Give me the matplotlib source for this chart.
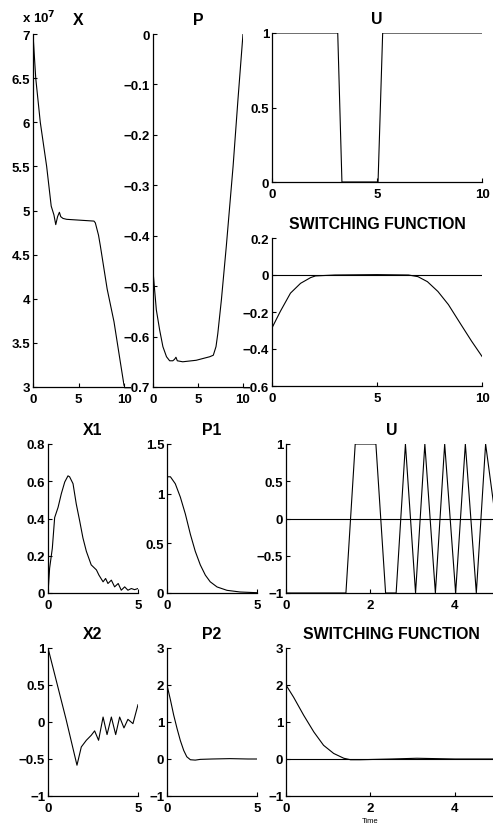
import numpy as np
import matplotlib.pyplot as plt
from matplotlib.ticker import FuncFormatter

plt.rcParams['font.family'] = ['Liberation Sans', 'DejaVu Sans']
plt.rcParams['font.size'] = 9.5
plt.rcParams['font.weight'] = 'bold'
plt.rcParams['axes.titleweight'] = 'bold'
plt.rcParams['axes.linewidth'] = 0.9

# ---- top problem (t = 0..10) ----
x_t = [0, 0.3, 0.8, 1.5, 2.0, 2.3, 2.5, 2.7, 2.9, 3.05, 3.3, 3.7, 5.2, 6.7, 6.85,
       7.2, 7.4, 8.15, 8.9, 9.6, 10]
x_val = [7.0, 6.5, 6.0, 5.5, 5.05, 4.95, 4.84, 4.93, 4.98, 4.93, 4.91, 4.9, 4.89,
         4.88, 4.86, 4.72, 4.6, 4.11, 3.74, 3.28, 3.02]

p_t = [0, 0.37, 0.74, 1.1, 1.5, 1.85, 2.2, 2.4, 2.55, 2.7, 3.3, 4.8, 6.3, 6.7, 7.0, 7.2, 7.6,
       8.15, 8.9, 9.44, 10]
p_val = [-0.47, -0.547, -0.587, -0.62, -0.64, -0.648, -0.648, -0.645, -0.641, -0.648, -0.65,
         -0.647, -0.64, -0.637, -0.62, -0.594, -0.527, -0.42, -0.262, -0.13, 0.0]

u_t = [0, 3.13, 3.33, 5.05, 5.27, 10]
u_val = [1, 1, 0, 0, 1, 1]

sf_t = [0, 0.4, 0.88, 1.36, 1.84, 2.07, 3, 5, 6.5, 6.95, 7.4, 7.9, 8.4, 9.0, 9.5, 10]
sf_val = [-0.286, -0.196, -0.098, -0.045, -0.014, -0.005, 0.0, 0.002, 0.0, -0.009, -0.036,
          -0.089, -0.16, -0.268, -0.357, -0.44]

# ---- bottom problem (t = 0..5) ----
x1_t = [0, 0.09, 0.24, 0.37, 0.56, 0.74, 0.93, 1.11, 1.2, 1.39, 1.57, 1.76, 1.94, 2.13, 2.4,
        2.69, 2.83, 3.06, 3.2, 3.33, 3.52, 3.7, 3.9, 4.07, 4.26, 4.44, 4.63, 4.81, 5.0]
x1_val = [0, 0.133, 0.24, 0.405, 0.46, 0.533, 0.596, 0.629, 0.624, 0.587, 0.478, 0.387, 0.296,
          0.224, 0.151, 0.124, 0.096, 0.06, 0.078, 0.051, 0.069, 0.033, 0.051, 0.015, 0.033,
          0.015, 0.024, 0.018, 0.024]

p1_t = [0, 0.19, 0.46, 0.74, 1.02, 1.3, 1.57, 1.85, 2.13, 2.4, 2.78, 3.33, 4.07, 5.0]
p1_val = [1.17, 1.17, 1.10, 0.966, 0.795, 0.59, 0.42, 0.283, 0.18, 0.113, 0.061, 0.027, 0.01,
          0.003]

u2_t = [0, 1.42, 1.64, 2.13, 2.36, 2.61, 2.83, 3.07, 3.29, 3.54, 3.76, 4.02, 4.25, 4.51,
        4.73, 5.2]
u2_val = [-1, -1, 1, 1, -1, -1, 1, -1, 1, -1, 1, -1, 1, -1, 1, -1]

x2_t = [0, 0.5, 1.0, 1.61, 1.85, 2.13, 2.4, 2.59, 2.81, 3.06, 3.28, 3.52, 3.76, 3.98, 4.22,
        4.44, 4.72, 5.0]
x2_val = [1.0, 0.52, 0.04, -0.584, -0.337, -0.247, -0.18, -0.12, -0.247, 0.067, -0.17, 0.067,
          -0.17, 0.067, -0.08, 0.036, -0.022, 0.234]

p2_t = [0, 0.19, 0.37, 0.56, 0.74, 0.93, 1.1, 1.3, 1.57, 1.85, 2.5, 3.5, 4.5, 5.0]
p2_val = [2.0, 1.6, 1.19, 0.82, 0.5, 0.23, 0.06, -0.02, -0.03, -0.01, 0.0, 0.01, 0.0, 0.0]

sf2_t = [0, 0.18, 0.42, 0.66, 0.89, 1.13, 1.37, 1.53, 1.76, 2.5, 3.1, 4.0, 5.0]
sf2_val = [2.0, 1.67, 1.18, 0.73, 0.37, 0.15, 0.02, -0.02, -0.02, 0.0, 0.02, 0.0, 0.0]

W, H = 493, 828
fig = plt.figure(figsize=(W / 100, H / 100), dpi=100)

# matlab-like short tick labels: 1, 0.5, 0, -0.5
fmt = FuncFormatter(lambda v, pos: ('%g' % round(v, 6)).replace('-', '\u2212'))


def make_ax(l, r, t, b):
    ax = fig.add_axes([l / W, 1 - b / H, (r - l) / W, (b - t) / H])
    ax.spines['top'].set_visible(False)
    ax.spines['right'].set_visible(False)
    ax.tick_params(direction='in', length=3, width=0.8, pad=2)
    ax.tick_params(axis='x', pad=4)
    ax.xaxis.set_major_formatter(fmt)
    ax.yaxis.set_major_formatter(fmt)
    return ax


def line(ax, t, v):
    ax.plot(t, v, color='black', lw=0.8)


# X
ax = make_ax(33, 124, 35, 388)
line(ax, x_t, x_val)
ax.set_xlim(0, 10)
ax.set_ylim(3, 7)
ax.set_xticks([0, 5, 10])
ax.set_yticks([3, 3.5, 4, 4.5, 5, 5.5, 6, 6.5, 7])
ax.set_title('X', pad=7)
fig.text(22 / W, 1 - 23 / H, r'x 10$^7$', fontsize=9.5, fontweight='bold')

# P
ax = make_ax(153, 243, 35, 388)
line(ax, p_t, p_val)
ax.set_xlim(0, 10)
ax.set_ylim(-0.7, 0)
ax.set_xticks([0, 5, 10])
ax.set_yticks([-0.7, -0.6, -0.5, -0.4, -0.3, -0.2, -0.1, 0])
ax.set_title('P', pad=7)

# U (top)
ax = make_ax(272, 482, 34, 183)
line(ax, u_t, u_val)
ax.set_xlim(0, 10)
ax.set_ylim(0, 1)
ax.set_xticks([0, 5, 10])
ax.set_yticks([0, 0.5, 1])
ax.set_title('U', pad=7)

# switching function (top)
ax = make_ax(272, 482, 239, 387)
line(ax, sf_t, sf_val)
ax.axhline(0, color='black', lw=0.8)
ax.set_xlim(0, 10)
ax.set_ylim(-0.6, 0.2)
ax.set_xticks([0, 5, 10])
ax.set_yticks([-0.6, -0.4, -0.2, 0, 0.2])
ax.set_title('SWITCHING FUNCTION', pad=7)

# X1
ax = make_ax(48, 138, 445, 594)
line(ax, x1_t, x1_val)
ax.set_xlim(0, 5)
ax.set_ylim(0, 0.8)
ax.set_xticks([0, 5])
ax.set_yticks([0, 0.2, 0.4, 0.6, 0.8])
ax.set_title('X1', pad=7)

# P1
ax = make_ax(167, 257, 445, 594)
line(ax, p1_t, p1_val)
ax.set_xlim(0, 5)
ax.set_ylim(0, 1.5)
ax.set_xticks([0, 5])
ax.set_yticks([0, 0.5, 1, 1.5])
ax.set_title('P1', pad=7)

# U (bottom problem) - runs past the right edge
ax = make_ax(286, 497, 445, 594)
line(ax, u2_t, u2_val)
ax.axhline(0, color='black', lw=0.8)
ax.set_xlim(0, 5)
ax.set_ylim(-1, 1)
ax.set_xticks([0, 2, 4])
ax.set_yticks([-1, -0.5, 0, 0.5, 1])
ax.set_title('U', pad=7)

# X2
ax = make_ax(48, 138, 649, 797)
line(ax, x2_t, x2_val)
ax.set_xlim(0, 5)
ax.set_ylim(-1, 1)
ax.set_xticks([0, 5])
ax.set_yticks([-1, -0.5, 0, 0.5, 1])
ax.set_title('X2', pad=7)

# P2
ax = make_ax(167, 257, 649, 797)
line(ax, p2_t, p2_val)
ax.set_xlim(0, 5)
ax.set_ylim(-1, 3)
ax.set_xticks([0, 5])
ax.set_yticks([-1, 0, 1, 2, 3])
ax.set_title('P2', pad=7)

# switching function (bottom problem)
ax = make_ax(286, 497, 649, 797)
line(ax, sf2_t, sf2_val)
ax.axhline(0, color='black', lw=0.8)
ax.set_xlim(0, 5)
ax.set_ylim(-1, 3)
ax.set_xticks([0, 2, 4])
ax.set_yticks([-1, 0, 1, 2, 3])
ax.set_title('SWITCHING FUNCTION', pad=7)
ax.set_xlabel('Time', fontsize=5.5)
ax.xaxis.set_label_coords((370 - 286) / 211, -0.14)

fig.savefig('out.png', dpi=100)
